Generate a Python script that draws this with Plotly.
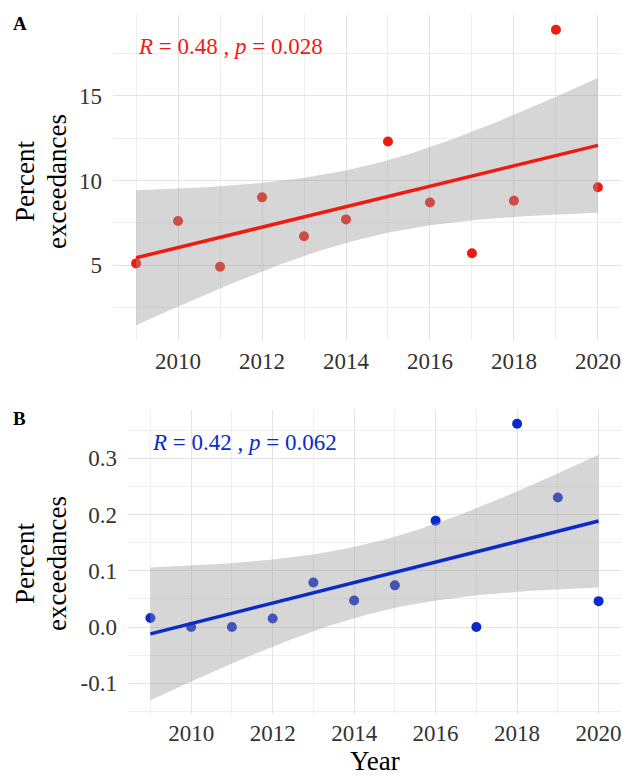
import numpy as np
import plotly.graph_objects as go

# Annual percent exceedances for two series
years = [2009, 2010, 2011, 2012, 2013, 2014, 2015, 2016, 2017, 2018, 2019, 2020]
pct_a = [5.1, 7.6, 4.9, 9.0, 6.7, 7.7, 12.3, 8.7, 5.7, 8.8, 18.9, 9.6]
pct_b = [0.016, 0.0, 0.0, 0.015, 0.079, 0.047, 0.074, 0.189, 0.0, 0.361, 0.230, 0.046]
label_a = "<i>R</i> = 0.48 , <i>p</i> = 0.028"
label_b = "<i>R</i> = 0.42 , <i>p</i> = 0.062"
x_ticks = [2010, 2012, 2014, 2016, 2018, 2020]
y_ticks_a = [5, 10, 15]
y_text_a = ["5", "10", "15"]
y_ticks_b = [-0.1, 0.0, 0.1, 0.2, 0.3]
y_text_b = ["-0.1", "0.0", "0.1", "0.2", "0.3"]

RED = "#ee1c10"
BLUE = "#0a2bc8"
T975 = 2.228  # Student t, 97.5% quantile, 10 degrees of freedom
FONT = "Liberation Serif"
W, H = 623, 778


def linear_fit(x, y, n_grid=80):
    x = np.asarray(x, float)
    y = np.asarray(y, float)
    slope, intercept = np.polyfit(x, y, 1)
    resid = y - (slope * x + intercept)
    n = len(x)
    s = np.sqrt(np.sum(resid ** 2) / (n - 2))
    sxx = np.sum((x - x.mean()) ** 2)
    xs = np.linspace(x.min(), x.max(), n_grid)
    fit = slope * xs + intercept
    se = s * np.sqrt(1.0 / n + (xs - x.mean()) ** 2 / sxx)
    return xs, fit, fit - T975 * se, fit + T975 * se


def padded(lo, hi, frac=0.05):
    pad = (hi - lo) * frac
    return [lo - pad, hi + pad]


fig = go.Figure()

panels = [
    dict(y=pct_a, color=RED, xa="x", ya="y",
         xdom=[113 / W, 621 / W], ydom=[1 - 340 / H, 1 - 15 / H],
         yt=y_ticks_a, ytt=y_text_a, yminor=[2.5, 7.5, 12.5, 17.5], xstand=5),
    dict(y=pct_b, color=BLUE, xa="x2", ya="y2",
         xdom=[128 / W, 621 / W], ydom=[1 - 714 / H, 1 - 410 / H],
         yt=y_ticks_b, ytt=y_text_b, yminor=[-0.15, -0.05, 0.05, 0.15, 0.25, 0.35], xstand=3),
]

for i, p in enumerate(panels):
    xs, fit, lower, upper = linear_fit(years, p["y"])
    # points first, then the confidence band laid over them, then the fit line
    fig.add_trace(go.Scatter(
        x=years, y=p["y"], mode="markers", xaxis=p["xa"], yaxis=p["ya"],
        marker=dict(color=p["color"], size=10), showlegend=False, hoverinfo="skip"))
    fig.add_trace(go.Scatter(
        x=np.concatenate([xs, xs[::-1]]), y=np.concatenate([upper, lower[::-1]]),
        fill="toself", fillcolor="rgba(153,153,153,0.4)", line=dict(width=0),
        mode="lines", xaxis=p["xa"], yaxis=p["ya"], showlegend=False, hoverinfo="skip"))
    fig.add_trace(go.Scatter(
        x=xs, y=fit, mode="lines", xaxis=p["xa"], yaxis=p["ya"],
        line=dict(color=p["color"], width=3.5), showlegend=False, hoverinfo="skip"))

    yr = padded(min(min(p["y"]), lower.min()), max(max(p["y"]), upper.max()))
    sfx = "" if i == 0 else "2"
    fig.layout["xaxis" + sfx] = dict(
        domain=p["xdom"], anchor="y" + sfx, range=[2008.45, 2020.55],
        tickvals=x_ticks, ticks="", showline=False, zeroline=False,
        showgrid=True, gridcolor="#e3e3e3", gridwidth=1.2,
        minor=dict(tickvals=[2009, 2011, 2013, 2015, 2017, 2019], showgrid=True,
                   gridcolor="#efefef", gridwidth=0.8),
        tickfont=dict(family=FONT, size=23, color="#333333"),
        ticklabelstandoff=p["xstand"])
    fig.layout["yaxis" + sfx] = dict(
        domain=p["ydom"], anchor="x" + sfx, range=yr,
        tickvals=p["yt"], ticktext=p["ytt"], ticks="", showline=False, zeroline=False,
        showgrid=True, gridcolor="#e3e3e3", gridwidth=1.2,
        minor=dict(tickvals=p["yminor"], showgrid=True,
                   gridcolor="#efefef", gridwidth=0.8),
        tickfont=dict(family=FONT, size=23, color="#333333"),
        ticklabelstandoff=10)

annotations = []
# correlation labels
annotations.append(dict(x=2009, y=17.9, xref="x", yref="y", text=label_a, showarrow=False,
                        xanchor="left", yanchor="middle",
                        font=dict(family=FONT, size=23, color=RED)))
annotations.append(dict(x=2009, y=0.328, xref="x2", yref="y2", text=label_b, showarrow=False,
                        xanchor="left", yanchor="middle",
                        font=dict(family=FONT, size=23, color=BLUE)))
# panel tags
for tag, yc in [("A", 24), ("B", 418)]:
    annotations.append(dict(x=20 / W, y=1 - yc / H, xref="paper", yref="paper",
                            text="<b>" + tag + "</b>", showarrow=False,
                            xanchor="center", yanchor="middle",
                            font=dict(family=FONT, size=19, color="black")))
# y-axis titles, one annotation per line
for yc in [182, 564]:
    for line, xc in [("Percent", 25), ("exceedances", 57)]:
        annotations.append(dict(x=xc / W, y=1 - yc / H, xref="paper", yref="paper",
                                text=line, textangle=-90, showarrow=False,
                                xanchor="center", yanchor="middle",
                                font=dict(family=FONT, size=27, color="black")))
# x-axis title
annotations.append(dict(x=375 / W, y=1 - 761 / H, xref="paper", yref="paper",
                        text="Year", showarrow=False, xanchor="center", yanchor="middle",
                        font=dict(family=FONT, size=27, color="black")))

fig.update_layout(
    width=W, height=H, margin=dict(l=0, r=0, t=0, b=0),
    paper_bgcolor="white", plot_bgcolor="white",
    annotations=annotations, showlegend=False,
)

fig.write_html("out.html")
